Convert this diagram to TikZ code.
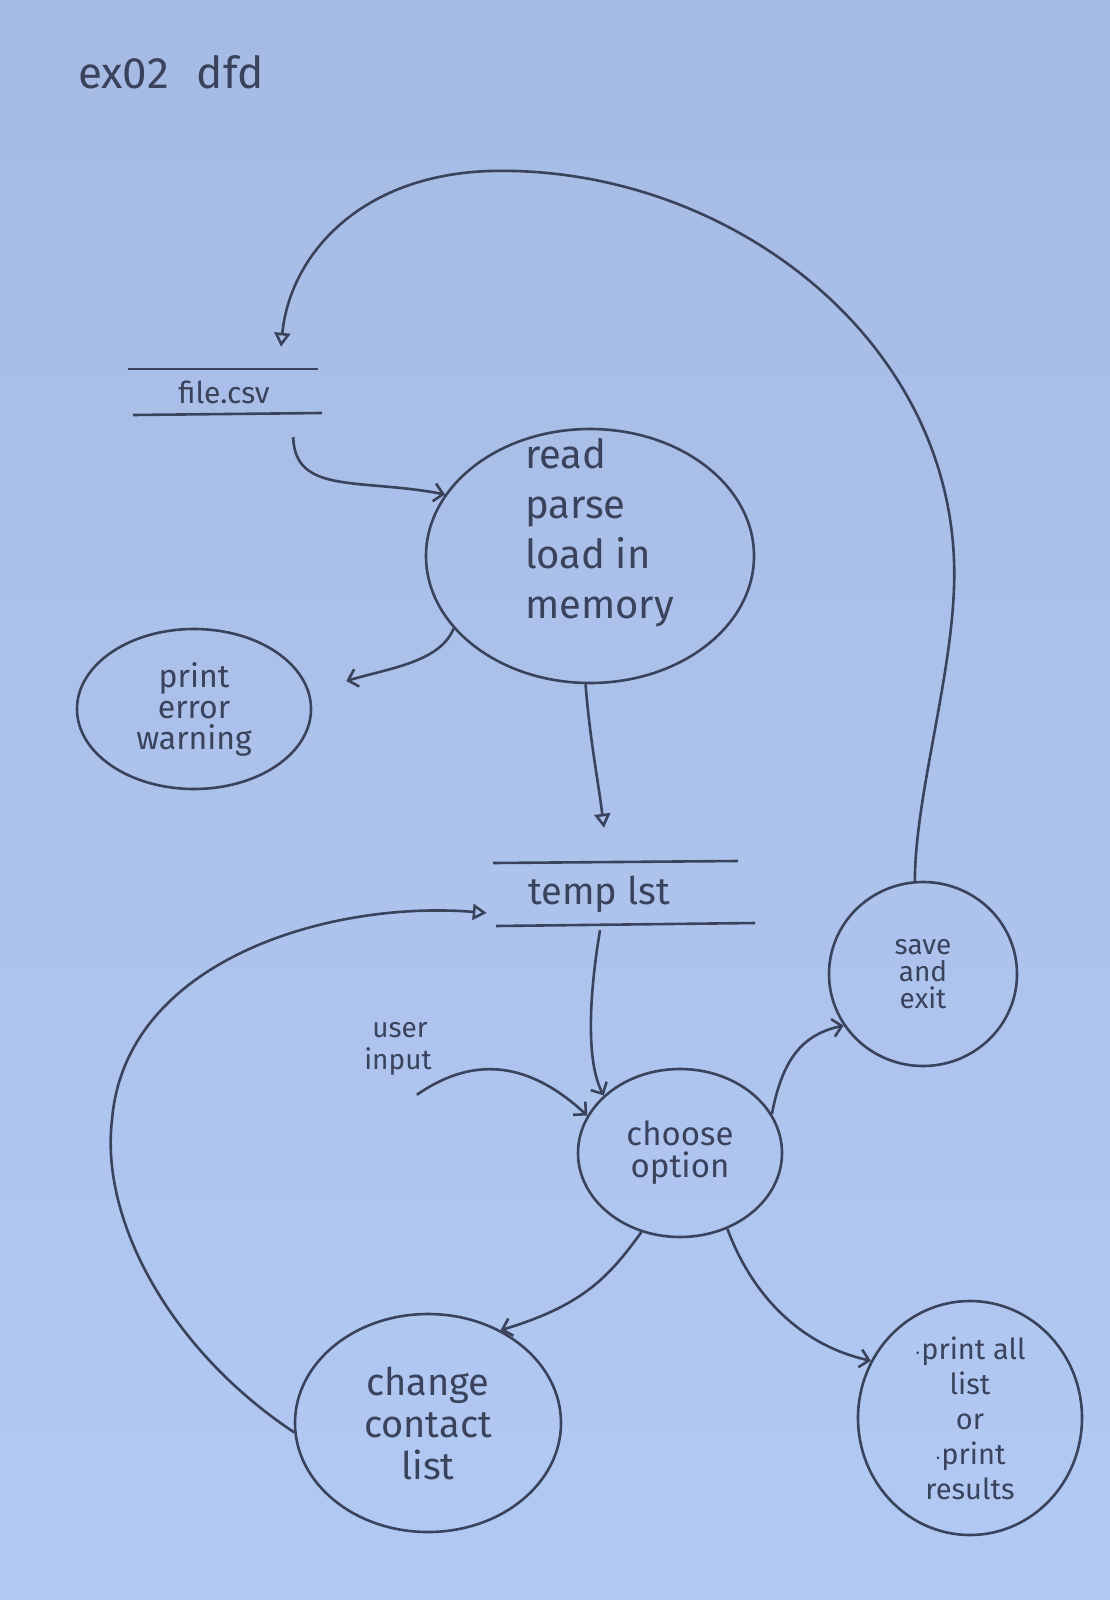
\documentclass[tikz,border=0pt]{standalone}
\usepackage{fontspec}
\setmainfont{Fira Sans}
\usetikzlibrary{arrows.meta,shapes.geometric,calc}
\definecolor{ink}{RGB}{58,66,92}
\definecolor{papertop}{RGB}{166,187,228}
\definecolor{paperbot}{RGB}{178,201,243}
\newcommand{\fsz}[2]{\fontsize{#1}{#2}\selectfont}
\begin{document}
\begin{tikzpicture}[x=1pt,y=-1pt,
  ink/.style={draw=ink,line width=2.6pt},
  proc/.style={ellipse,ink,inner sep=0pt,text=ink,align=center},
  store/.style={inner sep=0pt,text=ink},
  lbl/.style={text=ink,align=left,inner sep=0pt},
  flow/.style={ink,-{Straight Barb[length=9pt,width=18pt,line width=2.6pt]}},
  tflow/.style={ink,-{Triangle[open,length=14pt,width=16pt,line width=2.6pt]}}]
\useasboundingbox (0,0) rectangle (1110,1600);
\shade[top color=papertop,bottom color=paperbot] (0,0) rectangle (1110,1600);

% title
\node[lbl,anchor=west,font=\fsz{44}{50}] (title) at (78,72) {ex02\hspace{28pt}dfd};

% data stores
\node[store,minimum width=192pt,minimum height=46pt,font=\fsz{30}{34}] (file) at (224,392) {file.csv};
\draw[ink] (128,369) -- (318,369);
\draw[ink] (133,415) -- (322,413);
\node[store,minimum width=258pt,minimum height=64pt,font=\fsz{38}{42}] (temp) at (624,894) {\hspace{-50pt}temp lst};
\draw[ink] (493,863) -- (738,861);
\draw[ink] (496,926) -- (755,923);

% processes
\node[proc,minimum width=328pt,minimum height=254pt] (read) at (590,556) {};
\node[lbl,anchor=north west,font=\fsz{40}{50}] (readtxt) at (525,438) {read\\parse\\load in\\memory};
\node[proc,minimum width=234pt,minimum height=160pt,font=\fsz{32}{31}] (err) at (194,709) {print\\error\\warning};
\node[proc,minimum width=204pt,minimum height=168pt,font=\fsz{33}{32}] (choose) at (680,1153) {choose\\option};
\node[proc,minimum width=188pt,minimum height=184pt,font=\fsz{28}{27}] (save) at (923,974) {save\\and\\exit};
\node[proc,minimum width=266pt,minimum height=218pt,font=\fsz{38}{42}] (change) at (428,1423) {change\\contact\\list};
\node[proc,minimum width=224pt,minimum height=234pt,font=\fsz{29}{35}] (print) at (970,1418) {$\cdot$print all\\list\\or\\$\cdot$print\\results};
\node[lbl,font=\fsz{28}{32}] (user) at (398,1049) {\hspace{8pt}user\\input};

% flows
\draw[flow] ($(file.south east)+(-27,22)$) .. controls (295,495) and (360,478) .. (read.157);
\draw[flow] (read.208) .. controls (440,662) and (390,668) .. ($(err.east)+(34,-28)$);
\draw[tflow] (read.268) .. controls (590,740) and (598,780) .. ($(temp.north)+(-20,-34)$);
\draw[flow] ($(temp.south)+(-24,4)$) .. controls (590,990) and (585,1060) .. (choose.143);
\draw[flow] ($(user.south east)+(-15,19)$) .. controls (470,1058) and (525,1058) .. (choose.158);
\draw[flow] (choose.23) .. controls (782,1062) and (800,1035) .. (save.213);
\draw[flow] (choose.244) .. controls (610,1275) and (585,1305) .. (change.52);
\draw[flow] (choose.302) .. controls (752,1295) and (800,1345) .. (print.150);
\draw[tflow] (change.184) .. controls (170,1350) and (100,1220) .. (112,1120)
  .. controls (125,960) and (330,900) .. ($(temp.west)+(-8,19)$);
\draw[tflow] (save.95) .. controls (915,790) and (958,660) .. (954,560)
  .. controls (945,330) and (720,165) .. (490,171)
  .. controls (360,175) and (290,255) .. ($(file.north)+(57,-22)$);
\end{tikzpicture}
\end{document}
